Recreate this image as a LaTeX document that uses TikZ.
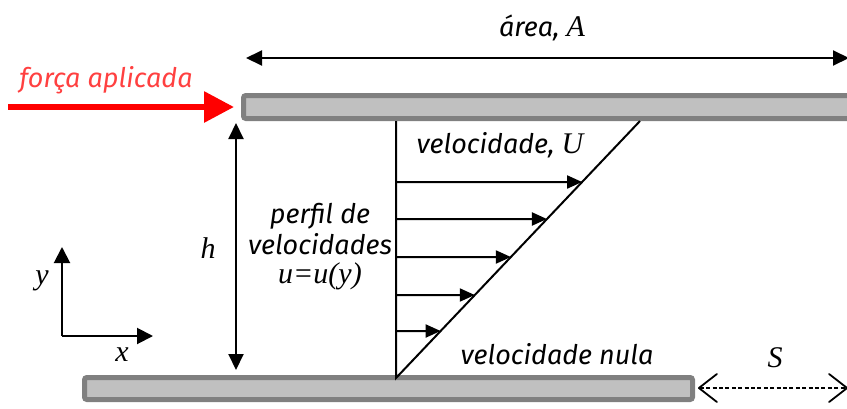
\documentclass[tikz,border=0pt]{standalone}
\usepackage{fontspec}
\setmainfont{Fira Sans}
\newfontfamily\symfont{Liberation Serif}
\usetikzlibrary{arrows.meta,calc}
\definecolor{plateedge}{RGB}{128,128,128}
\definecolor{platefill}{RGB}{192,192,192}
\definecolor{forcered}{RGB}{255,0,0}
\tikzset{
  plate/.style={draw=plateedge, fill=platefill, line width=2.5pt, rounded corners=1.2pt},
  dimarrow/.style={line width=1pt, {Triangle[length=8pt,width=7.5pt]}-{Triangle[length=8pt,width=7.5pt]}},
  profarrow/.style={line width=1pt, -{Triangle[length=7.5pt,width=6.5pt]}},
  axisarrow/.style={line width=1pt, -{Triangle[length=8pt,width=8pt]}},
  gaparrow/.style={line width=0.8pt, dash pattern=on 2pt off 1.2pt, {Straight Barb[length=9pt,width=14pt,line width=0.9pt,round]}-{Straight Barb[length=9pt,width=14pt,line width=0.9pt,round]}},
  lbl/.style={font=\itshape\fontsize{13.5}{15.5}\selectfont, inner sep=0pt},
  sym/.style={font=\symfont\itshape\fontsize{15}{17}\selectfont, inner sep=0pt}
}
\begin{document}
\begin{tikzpicture}[x=0.5pt,y=-0.5pt]
\useasboundingbox (0,0) rectangle (847,408);

%plates
\draw[plate] (243.5,95.5) rectangle (852,118.5);
\draw[plate] (84.5,377.5) rectangle (692.5,399.5);

%area of the moving plate
\coordinate (areaL) at (246,58);
\coordinate (areaR) at (849,58);
\draw[dimarrow] (areaL) -- (areaR);
\node[lbl] (area) at (542,28) {área, {\symfont\itshape\fontsize{15}{17}\selectfont A}};

%applied force
\coordinate (forceS) at (8,107);
\coordinate (forceE) at (234,107);
\draw[forcered, line width=3pt, -{Triangle[length=15pt,width=15pt]}] (forceS) -- (forceE);
\node[lbl, text=forcered!75] (force) at (106,80) {força aplicada};

%gap height
\coordinate (hT) at (236,123);
\coordinate (hB) at (236,370);
\draw[dimarrow] (hT) -- (hB);
\node[sym] (h) at (208,248) {h};

%velocity profile
\coordinate (wallB) at (396,378);
\coordinate (wallT) at (396,121);
\coordinate (plateU) at (640,121);
\draw[line width=1pt] (wallT) -- (wallB) -- (plateU);
\foreach \yy in {182,219,257,295,331}
  \draw[profarrow] (396,\yy) -- ($(wallB)!{(378-\yy)/257}!(plateU)$);

\node[lbl] (velU) at (500,145) {velocidade, {\symfont\itshape\fontsize{15}{17}\selectfont U}};
\node[lbl, align=center] (perfil) at (320,229) {perfil de\\velocidades};
\node[sym] (uy) at (320,276) {u=u(y)};
\node[lbl] (nula) at (557,354) {velocidade nula};

%displacement of the plate
\coordinate (sL) at (698,388);
\coordinate (sR) at (848,388);
\draw[gaparrow] (sL) -- (sR);
\node[sym] (S) at (775,358) {S};

%axes
\coordinate (orig) at (62,336);
\coordinate (yax) at (62,247);
\coordinate (xax) at (153,336);
\draw[axisarrow] (orig) -- (yax);
\draw[axisarrow] (orig) -- (xax);
\node[sym] (ylab) at (42,281) {y};
\node[sym] (xlab) at (122,355) {x};
\end{tikzpicture}
\end{document}
